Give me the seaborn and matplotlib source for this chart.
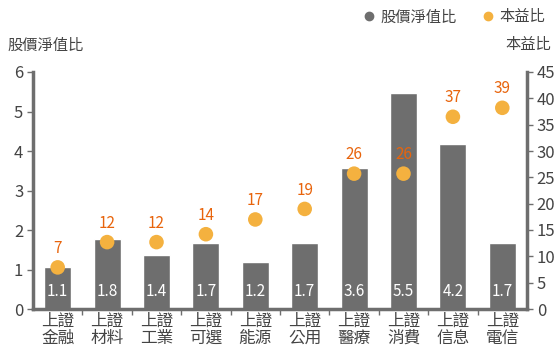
import matplotlib
matplotlib.use("Agg")
import matplotlib.pyplot as plt
from matplotlib.lines import Line2D
from matplotlib.ticker import FixedLocator
import seaborn as sns
import numpy as np
import pandas as pd

categories = ["上證\n金融", "上證\n材料", "上證\n工業", "上證\n可選", "上證\n能源",
              "上證\n公用", "上證\n醫療", "上證\n消費", "上證\n信息", "上證\n電信"]
pb_values = [1.07, 1.78, 1.37, 1.68, 1.18, 1.68, 3.56, 5.47, 4.17, 1.68]
pe_values = [7.9, 12.7, 12.7, 14.2, 17.0, 19.0, 25.7, 25.7, 36.5, 38.2]
pe_labels = [7, 12, 12, 14, 17, 19, 26, 26, 37, 39]
left_ticks = [0, 1, 2, 3, 4, 5, 6]
right_ticks = [0, 5, 10, 15, 20, 25, 30, 35, 40, 45]

sns.set_theme(style="white")
plt.rcParams["font.family"] = ["Noto Sans CJK TC", "DejaVu Sans"]

BAR = "#6e6e6e"
DOT = "#f4b13f"
LBL = "#e8640c"
TXT = "#444444"

df = pd.DataFrame({"cat": categories, "pb": pb_values, "pe": pe_values})

fig = plt.figure(figsize=(5.54, 3.48), dpi=100)
ax = fig.add_axes([33/554, 1 - 309/348, 494/554, (309 - 72)/348])
sns.barplot(data=df, x="cat", y="pb", color=BAR, width=0.55, ax=ax,
            saturation=1, zorder=2)
ax.set_xlim(-0.5, len(categories) - 0.5)
ax.set_ylim(0, 6)
ax.set_yticks(left_ticks)
ax.set_xlabel("")
ax.set_ylabel("")

for i, v in enumerate(pb_values):
    ax.text(i, 0.45, f"{v:.1f}", ha="center", va="center", color="white", fontsize=11)

ax2 = ax.twinx()
ax2.set_position(ax.get_position())
xs = np.arange(len(categories))
sns.scatterplot(x=xs, y=pe_values, color=DOT, s=110, edgecolor="none", ax=ax2, zorder=3)
ax2.set_ylim(0, 45)
ax2.set_yticks(right_ticks)
for i, (v, l) in enumerate(zip(pe_values, pe_labels)):
    ax2.annotate(str(l), (i, v), xytext=(0, 7.5), textcoords="offset points",
                 ha="center", va="bottom", color=LBL, fontsize=11)

for a in (ax, ax2):
    for s in a.spines.values():
        s.set_visible(False)
ax.spines["left"].set_visible(True)
ax.spines["bottom"].set_visible(True)
ax2.spines["right"].set_visible(True)
for s in (ax.spines["left"], ax.spines["bottom"], ax2.spines["right"]):
    s.set_color(BAR)
    s.set_linewidth(2.5)

ax.tick_params(axis="y", left=True, length=4, width=1, color=BAR, labelcolor=TXT,
               labelsize=12, pad=3)
ax2.tick_params(axis="y", right=True, length=4, width=1, color=BAR, labelcolor=TXT,
                labelsize=12, pad=3)
ax.tick_params(axis="x", which="major", bottom=False, length=0, labelcolor=TXT,
               labelsize=12, pad=3)
ax.xaxis.set_minor_locator(FixedLocator(np.arange(0.5, len(categories) - 1, 1)))
ax.tick_params(axis="x", which="minor", bottom=True, length=4, width=1, color=BAR)
for t in ax.get_xticklabels():
    t.set_linespacing(0.95)

fig.text(7/554, 1 - 45/348, "股價淨值比", ha="left", va="center", color=TXT, fontsize=11)
fig.text(551/554, 1 - 45/348, "本益比", ha="right", va="center", color=TXT, fontsize=11)

handles = [Line2D([], [], marker="o", ls="", color=BAR, markersize=6),
           Line2D([], [], marker="o", ls="", color=DOT, markersize=6)]
fig.legend(handles, ["股價淨值比", "本益比"], loc="upper right", ncol=2,
           bbox_to_anchor=(1.0, 1.0), frameon=False, fontsize=11,
           handletextpad=-0.2, columnspacing=1.0, labelcolor=TXT, borderaxespad=0.15)

fig.savefig("out.png", dpi=100)
